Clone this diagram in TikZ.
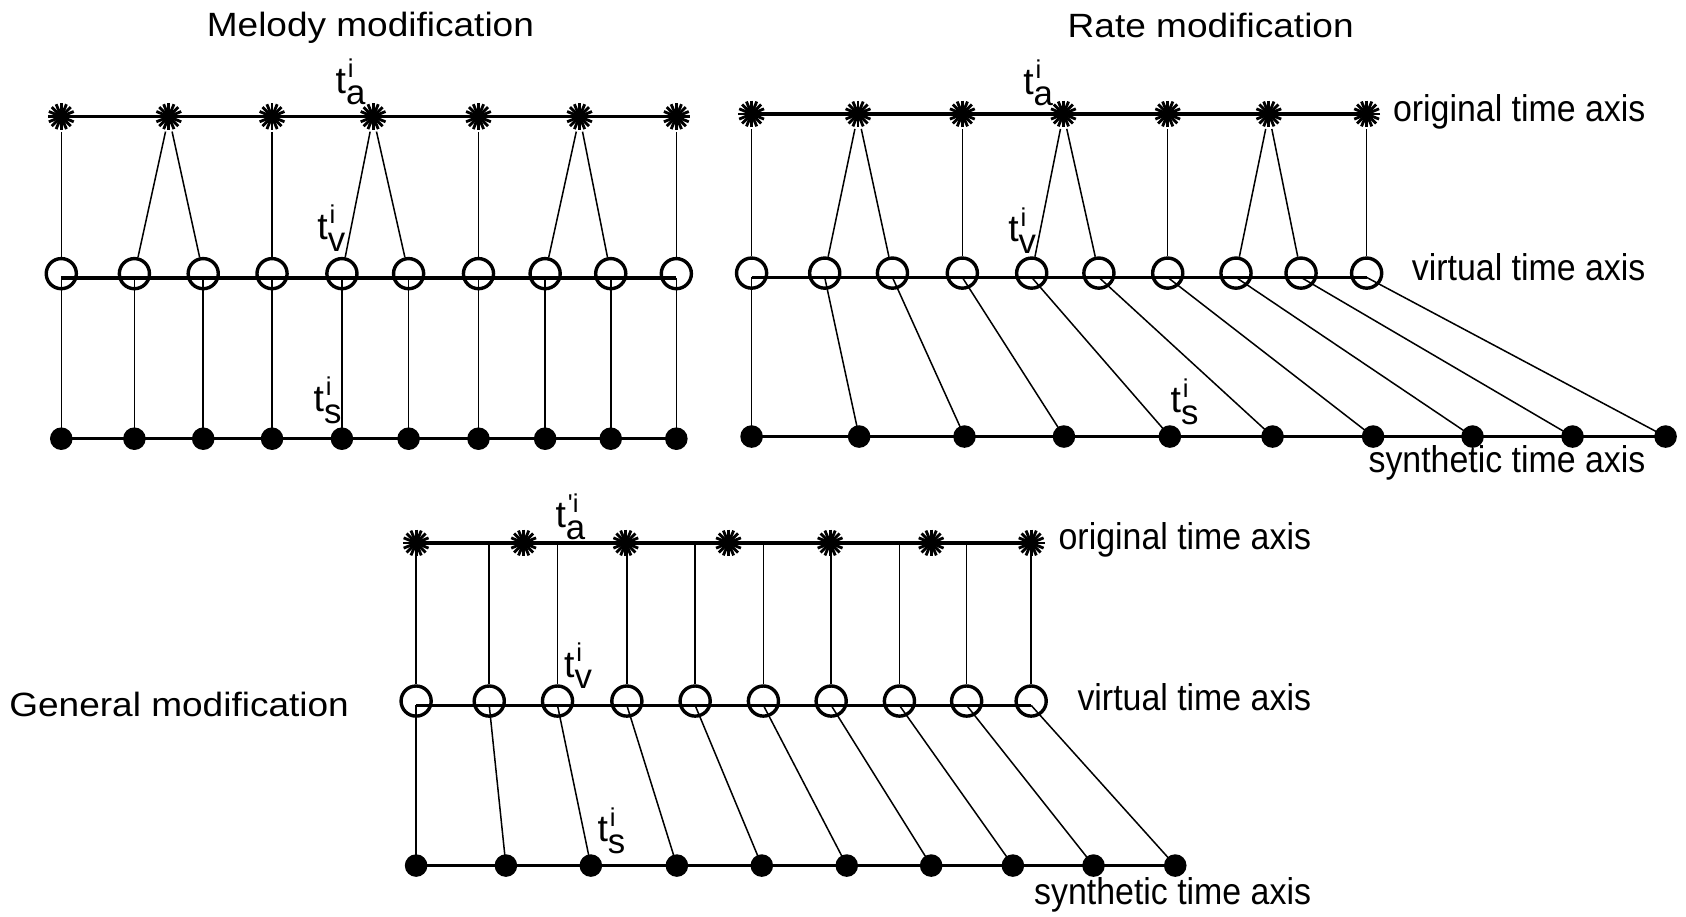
\documentclass[tikz,border=0pt]{standalone}
\usepackage{fontspec}
\setmainfont{Liberation Sans}
\usepackage{graphicx}
\usetikzlibrary{calc}

% text helpers
\newcommand{\paneltitle}[1]{\scalebox{1.1}[1]{\fontsize{8.9pt}{10pt}\selectfont #1}}
\newcommand{\axisname}[1]{\scalebox{0.91}[1]{\fontsize{9.85pt}{11pt}\selectfont #1}}
% time instant symbol: t with subscript #1 and superscript #2
\newcommand{\tmark}[2]{{\fontsize{9.9pt}{11pt}\selectfont t}%
  \rlap{\kern0.5pt\raisebox{4.2pt}{\fontsize{6.8pt}{7pt}\selectfont #2}}%
  \raisebox{-3pt}{\fontsize{9.2pt}{10pt}\selectfont #1}}

\tikzset{
  axisline/.style={line width=0.9pt},
  link/.style={line width=0.4pt},
  astk/.style={circle, inner sep=0pt, minimum size=0.27cm,
    path picture={\foreach \a in {0,22.5,...,157.5}{%
      \draw[line width=0.75pt] (path picture bounding box.center) ++(\a:0.125cm) -- ++(\a:-0.25cm);}}},
  vmark/.style={circle, draw, line width=0.9pt, inner sep=0pt, minimum size=0.28cm},
  smark/.style={circle, fill, inner sep=0pt, minimum size=0.21cm},
  lbl/.style={inner sep=0pt, anchor=base west},
  rlbl/.style={inner sep=0pt, anchor=base east},
  ttl/.style={inner sep=0pt, anchor=base},
}

\begin{document}
\begin{tikzpicture}[x=0.01cm, y=-0.01cm]
\fill[white] (0,0) rectangle (1568,852);
\useasboundingbox (0,0) rectangle (1568,852);

% ---------------- Melody modification ----------------
\node[ttl] (m-title) at (344.5,34) {\paneltitle{Melody modification}};
\foreach \x [count=\i] in {57,157,253,347,445,539,629}
  \node[astk] (m-s\i) at (\x,108.5) {};
\foreach \x [count=\i] in {57,125,189,253,318,380,445,507,568,629}{
  \node[vmark] (m-c\i) at (\x,254.5) {};
  \node[smark] (m-d\i) at (\x,408) {};
}
\draw[axisline] (m-s1.center) -- (m-s7.center);
\draw[axisline] ($(m-c1.center)+(0,4)$) -- ($(m-c10.center)+(0,4)$);
\draw[axisline] (m-d1.center) -- (m-d10.center);
\foreach \s/\c in {1/1,2/2,2/3,3/4,4/5,4/6,5/7,6/8,6/9,7/10}
  \draw[link] (m-s\s) -- (m-c\c);
\foreach \i in {1,...,10}
  \draw[link] ($(m-c\i.center)+(0,4)$) -- (m-d\i.center);
\node[lbl] (m-ta) at (311.5,86.5) {\tmark{a}{i}};
\node[lbl] (m-tv) at (294.5,223) {\tmark{v}{i}};
\node[lbl] (m-ts) at (291,383) {\tmark{s}{i}};

% ---------------- Rate modification ----------------
\node[ttl] (r-title) at (1126,35) {\paneltitle{Rate modification}};
\foreach \x [count=\i] in {699,798,895,989,1086,1180,1271}
  \node[astk] (r-s\i) at (\x,106) {};
\foreach \x [count=\i] in {699,767,830,895,959.5,1022,1086,1149.5,1210,1271}
  \node[vmark] (r-c\i) at (\x,254) {};
\foreach \x [count=\i] in {699,799,897,989.5,1088,1183.5,1277,1369.5,1462.5,1549}
  \node[smark] (r-d\i) at (\x,406) {};
\draw[axisline] (r-s1.center) -- (r-s7.center);
\draw[axisline] ($(r-c1.center)+(0,4)$) -- ($(r-c10.center)+(0,4)$);
\draw[axisline] (r-d1.center) -- (r-d10.center);
\foreach \s/\c in {1/1,2/2,2/3,3/4,4/5,4/6,5/7,6/8,6/9,7/10}
  \draw[link] (r-s\s) -- (r-c\c);
\foreach \i in {1,...,10}
  \draw[link] ($(r-c\i.center)+(0,4)$) -- (r-d\i.center);
\node[lbl] (r-ta) at (951,88) {\tmark{a}{i}};
\node[lbl] (r-tv) at (937,225) {\tmark{v}{i}};
\node[lbl] (r-ts) at (1088,384) {\tmark{s}{i}};
\node[rlbl] (r-orig) at (1531,113) {\axisname{original time axis}};
\node[rlbl] (r-virt) at (1531,261) {\axisname{virtual time axis}};
\node[rlbl] (r-synt) at (1531,439) {\axisname{synthetic time axis}};

% ---------------- General modification ----------------
\node[inner sep=0pt, anchor=base west] (g-title) at (8,666) {\paneltitle{General modification}};
\foreach \x [count=\i] in {387,487,582,677.5,772,866,959}
  \node[astk] (g-s\i) at (\x,505) {};
\foreach \x [count=\i] in {387,455,518.5,583,646.5,710,773,836.5,899,959}
  \node[vmark] (g-c\i) at (\x,652) {};
\foreach \x [count=\i] in {387,470.5,549.5,629.5,708.5,787.5,866,942,1017,1093}
  \node[smark] (g-d\i) at (\x,805) {};
\draw[axisline] (g-s1.center) -- (g-s7.center);
\draw[axisline] ($(g-c1.center)+(0,4)$) -- ($(g-c10.center)+(0,4)$);
\draw[axisline] (g-d1.center) -- (g-d10.center);
\foreach \i in {1,...,10}{
  \draw[link] (g-c\i |- g-s1) -- (g-c\i);
  \draw[link] ($(g-c\i.center)+(0,4)$) -- (g-d\i.center);
}
\node[lbl] (g-ta) at (516,491) {\tmark{a}{\textquotesingle i}};
\node[lbl] (g-tv) at (524,630) {\tmark{v}{i}};
\node[lbl] (g-ts) at (555,783) {\tmark{s}{i}};
\node[rlbl] (g-orig) at (1220,511) {\axisname{original time axis}};
\node[rlbl] (g-virt) at (1220,661) {\axisname{virtual time axis}};
\node[rlbl] (g-synt) at (1220,841) {\axisname{synthetic time axis}};
\end{tikzpicture}
\end{document}
